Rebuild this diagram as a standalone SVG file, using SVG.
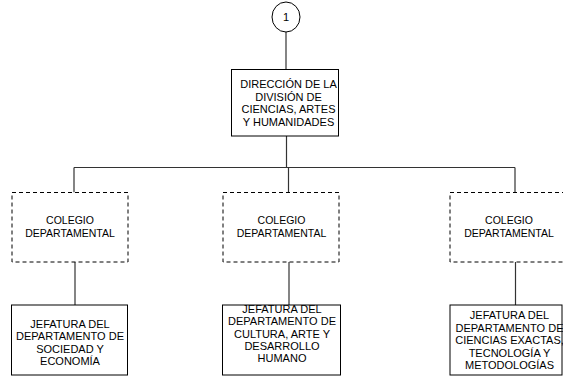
<svg xmlns="http://www.w3.org/2000/svg" width="563" height="376" viewBox="0 0 563 376">
<style>
.box{fill:#fff;stroke:#000;stroke-width:1}
.dash{fill:#fff;stroke:#000;stroke-width:1;stroke-dasharray:4,3}
.ln{stroke:#333;stroke-width:1.2;fill:none}
text{font-family:"Liberation Sans",Arial,sans-serif;font-size:11px;fill:#000;text-anchor:middle}
.c{font-size:10.5px}
</style>
<rect width="563" height="376" fill="#fff"/>
<g id="connectors">
<line class="ln" x1="286" y1="32" x2="286" y2="69.5"/>
<line class="ln" x1="286.5" y1="136" x2="286.5" y2="167.5"/>
<line class="ln" x1="74" y1="167.5" x2="515" y2="167.5"/>
<line class="ln" x1="74" y1="167.5" x2="74" y2="192.5"/>
<line class="ln" x1="288.5" y1="167.5" x2="288.5" y2="192.5"/>
<line class="ln" x1="515" y1="167.5" x2="515" y2="192.5"/>
<line class="ln" x1="75" y1="262" x2="75" y2="305"/>
<line class="ln" x1="289" y1="262" x2="289" y2="305"/>
<line class="ln" x1="515.5" y1="262" x2="515.5" y2="305"/>
</g>
<g id="n-circle">
<ellipse cx="286" cy="17" rx="14" ry="15" class="box"/>
<text x="286" y="21">1</text>
</g>
<g id="n-direccion">
<rect class="box" x="231.5" y="69.5" width="107" height="66.5"/>
<text x="288.5" y="88">DIRECCIÓN DE LA</text>
<text x="288.5" y="100.5">DIVISIÓN DE</text>
<text x="288.5" y="113">CIENCIAS, ARTES</text>
<text x="288.5" y="125.5">Y HUMANIDADES</text>
</g>
<g id="n-colegio1">
<rect class="dash" x="12" y="192.5" width="116" height="69.5"/>
<text class="c" x="70" y="224.3">COLEGIO</text>
<text class="c" x="70" y="236.7">DEPARTAMENTAL</text>
</g>
<g id="n-colegio2">
<rect class="dash" x="223" y="192.5" width="116" height="69.5"/>
<text class="c" x="281.5" y="224.3">COLEGIO</text>
<text class="c" x="281.5" y="236.7">DEPARTAMENTAL</text>
</g>
<g id="n-colegio3">
<rect class="dash" x="450" y="192.5" width="116" height="69.5"/>
<text class="c" x="509" y="224.3">COLEGIO</text>
<text class="c" x="509" y="236.7">DEPARTAMENTAL</text>
</g>
<g id="n-jefatura1">
<rect class="box" x="11.5" y="305" width="116" height="70"/>
<text x="70" y="327.5">JEFATURA DEL</text>
<text x="70" y="340">DEPARTAMENTO DE</text>
<text x="70" y="352.5">SOCIEDAD Y</text>
<text x="70" y="365">ECONOMÍA</text>
</g>
<g id="n-jefatura2">
<rect class="box" x="222.5" y="305" width="118" height="70"/>
<text x="282" y="312.7">JEFATURA DEL</text>
<text x="282" y="325.1">DEPARTAMENTO DE</text>
<text x="282" y="337.5">CULTURA, ARTE Y</text>
<text x="282" y="349.9">DESARROLLO</text>
<text x="282" y="362.3">HUMANO</text>
</g>
<g id="n-jefatura3">
<rect class="box" x="450" y="305" width="112" height="70"/>
<text x="509.5" y="319.3">JEFATURA DEL</text>
<text x="509.5" y="331.7">DEPARTAMENTO DE</text>
<text x="509.5" y="344.1">CIENCIAS EXACTAS,</text>
<text x="509.5" y="356.5">TECNOLOGÍA Y</text>
<text x="509.5" y="368.9">METODOLOGÍAS</text>
</g>
</svg>
